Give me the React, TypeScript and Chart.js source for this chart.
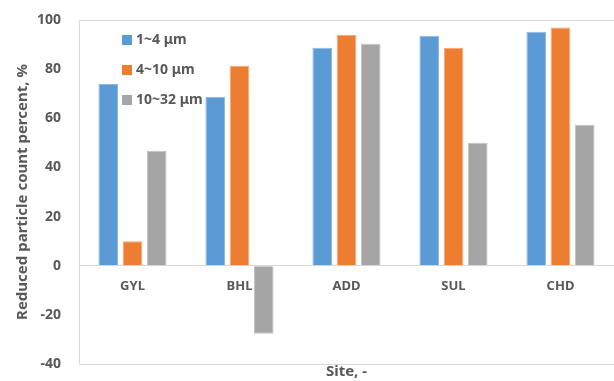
import React, { useEffect, useRef } from "react";
import { Chart, registerables } from "chart.js";

Chart.register(...registerables);

const categories = ["GYL", "BHL", "ADD", "SUL", "CHD"];
const seriesNames = ["1~4 μm", "4~10 μm", "10~32 μm"];
const small = [74, 68.8, 88.7, 93.6, 95.2];
const medium = [10, 81.4, 94, 88.7, 96.9];
const large = [46.8, -27.7, 90.3, 50, 57.4];
const yTicks = [-40, -20, 0, 20, 40, 60, 80, 100];

const colors = ["#5B9BD5", "#ED7D31", "#A5A5A5"];
const borders = ["#8DB8E2", "#F2A574", "#C2C2C2"];
const FONT = "'Noto Sans', sans-serif";
const TEXT = "#595959";
const LINE = "#D9D9D9";

const frameAndLegend = {
  id: "frameAndLegend",
  afterDraw(chart: any) {
    const { ctx, chartArea } = chart;
    const xs = chart.scales.x;
    const ys = chart.scales.y;
    ctx.save();
    ctx.strokeStyle = LINE;
    ctx.lineWidth = 1;
    const top = Math.round(chartArea.top) + 0.5;
    const bottom = Math.round(chartArea.bottom) + 0.5;
    ctx.beginPath();
    ctx.moveTo(chartArea.left + 0.5, top);
    ctx.lineTo(chartArea.right, top);
    ctx.moveTo(chartArea.left + 0.5, top);
    ctx.lineTo(chartArea.left + 0.5, bottom);
    ctx.lineTo(chartArea.right, bottom);
    ctx.stroke();
    // category labels just below the zero line
    ctx.font = `bold 13px ${FONT}`;
    ctx.fillStyle = TEXT;
    ctx.textAlign = "center";
    ctx.textBaseline = "middle";
    const zeroY = ys.getPixelForValue(0);
    chart.data.labels.forEach((lab: string, i: number) => {
      ctx.fillText(lab, xs.getPixelForValue(i), zeroY + 21);
    });
    // legend inside the plot area
    ctx.font = `bold 14px ${FONT}`;
    ctx.textAlign = "left";
    chart.data.datasets.forEach((ds: any, i: number) => {
      const x = chartArea.left + 43;
      const y = chartArea.top + 20 + i * 30;
      ctx.fillStyle = ds.backgroundColor;
      ctx.fillRect(x, y - 5, 10, 10);
      ctx.fillStyle = TEXT;
      ctx.fillText(ds.label, x + 14, y);
    });
    ctx.restore();
  },
};

export default function App() {
  const ref = useRef<HTMLCanvasElement>(null);
  useEffect(() => {
    if (!ref.current) return;
    const data = [small, medium, large];
    const chart = new Chart(ref.current, {
      type: "bar",
      data: {
        labels: categories,
        datasets: seriesNames.map((name, i) => ({
          label: name,
          data: data[i],
          backgroundColor: colors[i],
          borderColor: borders[i],
          borderWidth: 1,
          categoryPercentage: 0.68,
          barPercentage: 0.81,
        })),
      },
      options: {
        animation: false,
        responsive: true,
        maintainAspectRatio: false,
        layout: { padding: { top: 20, right: 0, left: 0, bottom: 0 } },
        plugins: { legend: { display: false }, tooltip: { enabled: false } },
        scales: {
          x: {
            type: "category",
            position: "bottom",
            grid: { display: false },
            border: { display: false },
            ticks: { display: false },
            afterFit: (s: any) => {
              s.height = 17;
            },
            title: {
              display: true,
              text: "Site, -",
              color: TEXT,
              font: { family: FONT, size: 15, weight: "bold" },
              padding: { top: 0, bottom: 0 },
            },
          },
          y: {
            min: -40,
            max: 100,
            afterBuildTicks: (s: any) => {
              s.ticks = yTicks.map((v) => ({ value: v }));
            },
            afterFit: (s: any) => {
              s.width = 79;
              s.paddingTop = 0;
              s.paddingBottom = 0;
            },
            grid: {
              drawTicks: false,
              color: (c: any) => (c.tick && c.tick.value === 0 ? LINE : "rgba(0,0,0,0)"),
            },
            border: { display: false },
            ticks: {
              color: TEXT,
              font: { family: FONT, size: 14, weight: "bold" },
              padding: 18,
            },
            title: {
              display: true,
              text: "Reduced particle count percent, %",
              color: TEXT,
              font: { family: FONT, size: 15, weight: "bold" },
              padding: { top: 14, bottom: 0 },
            },
          },
        },
      },
      plugins: [frameAndLegend],
    });
    return () => chart.destroy();
  }, []);
  return (
    <div style={{ position: "fixed", left: 0, top: 0, width: 614, height: 381, background: "#fff" }}>
      <canvas ref={ref} />
    </div>
  );
}
